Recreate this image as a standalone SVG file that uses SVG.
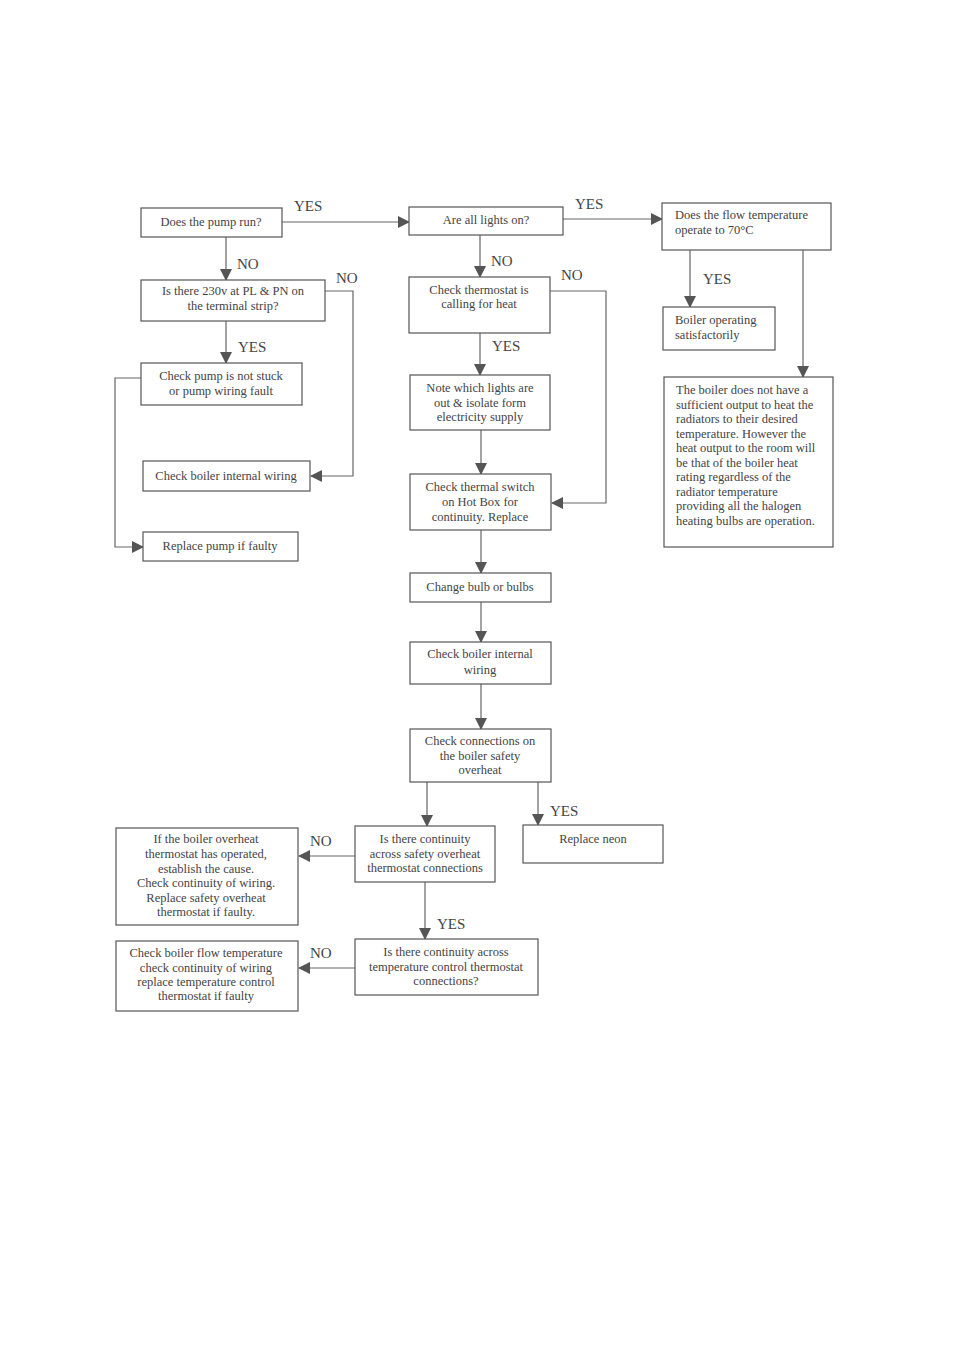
<svg xmlns="http://www.w3.org/2000/svg" width="954" height="1349" viewBox="0 0 954 1349">
<defs>
<marker id="ah" markerWidth="12" markerHeight="12" refX="11" refY="6" orient="auto" markerUnits="userSpaceOnUse">
<path d="M0,0 L12,6 L0,12 Z" fill="#555"/>
</marker>
<style>
.box{fill:#fff;stroke:#555;stroke-width:1.2}
.t{font-family:"Liberation Serif","Times New Roman",serif;font-size:12.5px;fill:#444}
.c{text-anchor:middle}
.lbl{font-family:"Liberation Serif","Times New Roman",serif;font-size:15px;fill:#444}
.ln{fill:none;stroke:#666;stroke-width:1.2}
.la{fill:none;stroke:#666;stroke-width:1.2;marker-end:url(#ah)}
</style>
</defs>
<rect width="954" height="1349" fill="#fff"/>
<g id="connectors">
<path class="la" d="M282,222 H409"/>
<path class="la" d="M226,237 V280"/>
<path class="la" d="M325,291 H353 V476 H311"/>
<path class="la" d="M226,321 V363"/>
<path class="la" d="M141,378 H115 V547 H143"/>
<path class="la" d="M563,219 H662"/>
<path class="la" d="M480,235 V277"/>
<path class="la" d="M550,291 H606 V503 H552"/>
<path class="la" d="M480,333 V375"/>
<path class="la" d="M481,430 V474"/>
<path class="la" d="M481,530 V573"/>
<path class="la" d="M481,602 V642"/>
<path class="la" d="M481,684 V729"/>
<path class="la" d="M427,782 V826"/>
<path class="la" d="M538,782 V825"/>
<path class="la" d="M355,856 H299"/>
<path class="la" d="M425,882 V939"/>
<path class="la" d="M355,968 H299"/>
<path class="la" d="M690,250 V307"/>
<path class="la" d="M803,250 V377"/>
<text class="lbl" x="294" y="211">YES</text>
<text class="lbl" x="237" y="269">NO</text>
<text class="lbl" x="336" y="283">NO</text>
<text class="lbl" x="238" y="352">YES</text>
<text class="lbl" x="575" y="209">YES</text>
<text class="lbl" x="491" y="266">NO</text>
<text class="lbl" x="561" y="280">NO</text>
<text class="lbl" x="492" y="351">YES</text>
<text class="lbl" x="703" y="284">YES</text>
<text class="lbl" x="550" y="816">YES</text>
<text class="lbl" x="310" y="846">NO</text>
<text class="lbl" x="437" y="929">YES</text>
<text class="lbl" x="310" y="958">NO</text>
</g>
<g id="n1"><rect class="box" x="141" y="208" width="141" height="29"/><text class="t c" x="211" y="226">Does the pump run?</text></g>
<g id="n2"><rect class="box" x="141" y="280" width="184" height="41"/><text class="t c" x="233" y="295">Is there 230v at PL &amp; PN on</text><text class="t c" x="233" y="310">the terminal strip?</text></g>
<g id="n3"><rect class="box" x="141" y="363" width="161" height="42"/><text class="t c" x="221" y="380">Check pump is not stuck</text><text class="t c" x="221" y="395">or pump wiring fault</text></g>
<g id="n4"><rect class="box" x="143" y="461" width="167" height="30"/><text class="t c" x="226" y="480">Check boiler internal wiring</text></g>
<g id="n5"><rect class="box" x="143" y="532" width="155" height="29"/><text class="t c" x="220" y="550">Replace pump if faulty</text></g>
<g id="n6"><rect class="box" x="409" y="207" width="154" height="28"/><text class="t c" x="486" y="224">Are all lights on?</text></g>
<g id="n7"><rect class="box" x="409" y="277" width="141" height="56"/><text class="t c" x="479" y="294">Check thermostat is</text><text class="t c" x="479" y="308">calling for heat</text></g>
<g id="n8"><rect class="box" x="410" y="375" width="140" height="55"/><text class="t c" x="480" y="392">Note which lights are</text><text class="t c" x="480" y="407">out &amp; isolate form</text><text class="t c" x="480" y="421">electricity supply</text></g>
<g id="n9"><rect class="box" x="410" y="474" width="141" height="56"/><text class="t c" x="480" y="491">Check thermal switch</text><text class="t c" x="480" y="506">on Hot Box for</text><text class="t c" x="480" y="521">continuity. Replace</text></g>
<g id="n10"><rect class="box" x="410" y="573" width="141" height="29"/><text class="t c" x="480" y="591">Change bulb or bulbs</text></g>
<g id="n11"><rect class="box" x="410" y="642" width="141" height="42"/><text class="t c" x="480" y="658">Check boiler internal</text><text class="t c" x="480" y="674">wiring</text></g>
<g id="n12"><rect class="box" x="410" y="729" width="141" height="53"/><text class="t c" x="480" y="745">Check connections on</text><text class="t c" x="480" y="760">the boiler safety</text><text class="t c" x="480" y="774">overheat</text></g>
<g id="n13"><rect class="box" x="523" y="825" width="140" height="38"/><text class="t c" x="593" y="843">Replace neon</text></g>
<g id="n14"><rect class="box" x="355" y="826" width="140" height="56"/><text class="t c" x="425" y="843">Is there continuity</text><text class="t c" x="425" y="858">across safety overheat</text><text class="t c" x="425" y="872">thermostat connections</text></g>
<g id="n15"><rect class="box" x="116" y="828" width="182" height="97"/><text class="t c" x="206" y="843">If the boiler overheat</text><text class="t c" x="206" y="858">thermostat has operated,</text><text class="t c" x="206" y="873">establish the cause.</text><text class="t c" x="206" y="887">Check continuity of wiring.</text><text class="t c" x="206" y="902">Replace safety overheat</text><text class="t c" x="206" y="916">thermostat if faulty.</text></g>
<g id="n16"><rect class="box" x="355" y="939" width="183" height="56"/><text class="t c" x="446" y="956">Is there continuity across</text><text class="t c" x="446" y="971">temperature control thermostat</text><text class="t c" x="446" y="985">connections?</text></g>
<g id="n17"><rect class="box" x="116" y="941" width="182" height="70"/><text class="t c" x="206" y="957">Check boiler flow temperature</text><text class="t c" x="206" y="972">check continuity of wiring</text><text class="t c" x="206" y="986">replace temperature control</text><text class="t c" x="206" y="1000">thermostat if faulty</text></g>
<g id="n18"><rect class="box" x="662" y="203" width="169" height="47"/><text class="t" x="675" y="219">Does the flow temperature</text><text class="t" x="675" y="234">operate to 70°C</text></g>
<g id="n19"><rect class="box" x="663" y="307" width="112" height="43"/><text class="t" x="675" y="324">Boiler operating</text><text class="t" x="675" y="339">satisfactorily</text></g>
<g id="n20"><rect class="box" x="664" y="377" width="169" height="170"/>
<text class="t" x="676" y="394">The boiler does not have a</text>
<text class="t" x="676" y="409">sufficient output to heat the</text>
<text class="t" x="676" y="423">radiators to their desired</text>
<text class="t" x="676" y="438">temperature. However the</text>
<text class="t" x="676" y="452">heat output to the room will</text>
<text class="t" x="676" y="467">be that of the boiler heat</text>
<text class="t" x="676" y="481">rating regardless of the</text>
<text class="t" x="676" y="496">radiator temperature</text>
<text class="t" x="676" y="510">providing all the halogen</text>
<text class="t" x="676" y="525">heating bulbs are operation.</text>
</g>
</svg>
